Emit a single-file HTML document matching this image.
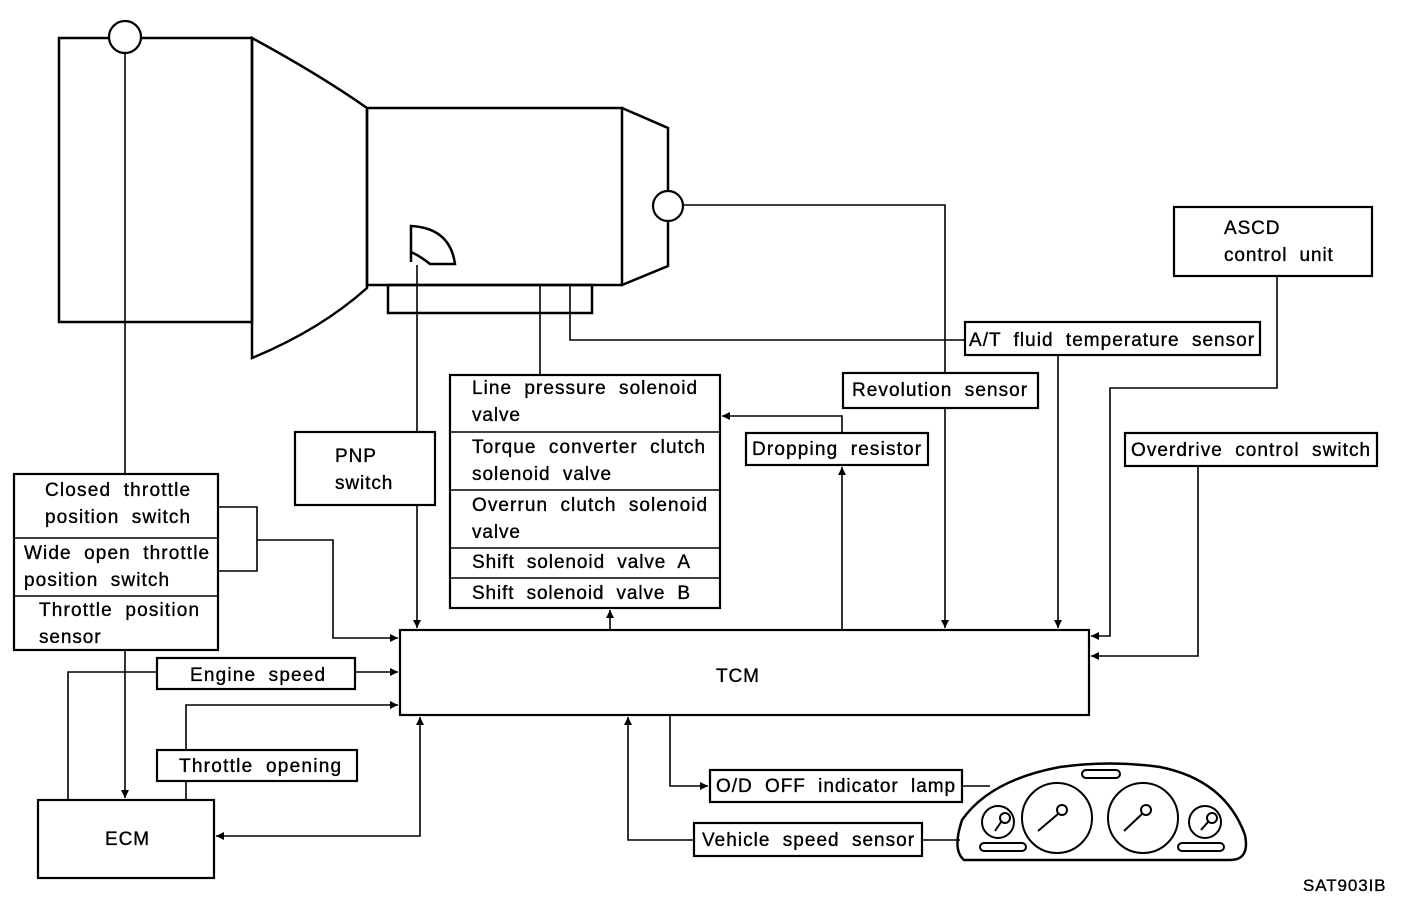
<!DOCTYPE html>
<html><head><meta charset="utf-8"><style>
html,body{margin:0;padding:0;background:#fff;}
svg{display:block;}
text{font-family:"Liberation Sans",sans-serif;font-size:19px;fill:#000;stroke:#000;stroke-width:0.35px;word-spacing:6px;letter-spacing:0.9px;}
</style></head><body>
<svg width="1408" height="898" viewBox="0 0 1408 898" xmlns="http://www.w3.org/2000/svg">
<defs><marker id="a" viewBox="0 0 10 10" refX="10" refY="5" markerWidth="9" markerHeight="8" orient="auto-start-reverse" markerUnits="userSpaceOnUse"><path d="M0,0L10,5L0,10z" fill="#000"/></marker></defs>
<g fill="none" stroke="#000" stroke-width="2.5">
<rect x="59" y="38" width="193" height="284"/>
<path d="M252,38 Q320,75 367,108 L367,288 Q320,330 252,358 Z"/>
<rect x="367" y="108" width="255" height="177"/>
<path d="M622,108 L668,128 L668,266 L622,285"/>
<rect x="388" y="285" width="204" height="28"/>
<path d="M411,262 L411,226 Q450,228 455,264 L430,264 Q420,256 411,252"/>
</g>
<circle cx="125" cy="37" r="16" fill="#fff" stroke="#000" stroke-width="2.2"/>
<circle cx="668" cy="206" r="15" fill="#fff" stroke="#000" stroke-width="2.2"/>
<g fill="none" stroke="#000" stroke-width="1.6">
<line x1="125" y1="53" x2="125" y2="474"/>
<line x1="125" y1="650" x2="125" y2="798" marker-end="url(#a)"/>
<line x1="417" y1="265" x2="417" y2="432"/>
<line x1="417" y1="505" x2="417" y2="628" marker-end="url(#a)"/>
<line x1="540" y1="285" x2="540" y2="375"/>
<polyline points="570,285 570,340 965,340"/>
<polyline points="683,205 945,205 945,373"/>
<line x1="945" y1="408" x2="945" y2="628" marker-end="url(#a)"/>
<line x1="1058" y1="355" x2="1058" y2="628" marker-end="url(#a)"/>
<polyline points="1277,276 1277,388 1110,388 1110,636 1091,636" marker-end="url(#a)"/>
<polyline points="1198,466 1198,656 1091,656" marker-end="url(#a)"/>
<line x1="842" y1="630" x2="842" y2="467" marker-end="url(#a)"/>
<polyline points="842,433 842,416 722,416" marker-end="url(#a)"/>
<line x1="610" y1="630" x2="610" y2="610" marker-end="url(#a)"/>
<polyline points="218,507 257,507 257,571 218,571"/>
<polyline points="257,540 333,540 333,638 398,638" marker-end="url(#a)"/>
<polyline points="68,800 68,672 157,672"/>
<line x1="355" y1="672" x2="398" y2="672" marker-end="url(#a)"/>
<polyline points="186,800 186,781"/>
<polyline points="186,750 186,705 398,705" marker-end="url(#a)"/>
<polyline points="420,717 420,836 216,836" marker-start="url(#a)" marker-end="url(#a)"/>
<polyline points="670,715 670,786 708,786" marker-end="url(#a)"/>
<polyline points="694,840 628,840 628,717" marker-end="url(#a)"/>
<line x1="962" y1="786" x2="990" y2="786"/>
<line x1="922" y1="840" x2="960" y2="840"/>
</g>
<g fill="#fff" stroke="#000" stroke-width="2.2">
<rect x="1174" y="207" width="198" height="69"/>
<rect x="965" y="322" width="295" height="33"/>
<rect x="843" y="373" width="195" height="35"/>
<rect x="746" y="433" width="182" height="32"/>
<rect x="1125" y="433" width="252" height="33"/>
<rect x="450" y="375" width="270" height="233"/>
<rect x="295" y="432" width="140" height="73"/>
<rect x="14" y="474" width="204" height="176"/>
<rect x="157" y="658" width="198" height="31"/>
<rect x="157" y="750" width="200" height="31"/>
<rect x="400" y="630" width="689" height="85"/>
<rect x="38" y="800" width="176" height="78"/>
<rect x="710" y="770" width="252" height="32"/>
<rect x="694" y="823" width="228" height="33"/>
</g>
<g stroke="#000" stroke-width="1.6">
<line x1="450" y1="432" x2="720" y2="432"/><line x1="450" y1="490" x2="720" y2="490"/>
<line x1="450" y1="548" x2="720" y2="548"/><line x1="450" y1="578" x2="720" y2="578"/>
<line x1="14" y1="538" x2="218" y2="538"/><line x1="14" y1="596" x2="218" y2="596"/>
</g>
<g fill="none" stroke="#000" stroke-width="2">
<path d="M964,860 Q952,850 962,820 Q990,780 1060,767 Q1110,760 1160,767 Q1225,780 1245,835 Q1250,860 1230,860 Z" stroke-width="2.5"/>
<rect x="1082" y="770" width="38" height="8" rx="4"/>
<rect x="980" y="843" width="46" height="8" rx="4"/>
<rect x="1178" y="843" width="46" height="8" rx="4"/>
<circle cx="998" cy="822" r="16"/><circle cx="1057" cy="818" r="35"/>
<circle cx="1143" cy="818" r="35"/><circle cx="1205" cy="822" r="16"/>
<circle cx="1005" cy="818" r="5"/><line x1="1001" y1="822" x2="995" y2="831"/>
<circle cx="1062" cy="810" r="5"/><line x1="1058" y1="814" x2="1038" y2="831"/>
<circle cx="1146" cy="810" r="5"/><line x1="1142" y1="814" x2="1124" y2="831"/>
<circle cx="1212" cy="818" r="5"/><line x1="1208" y1="822" x2="1201" y2="830"/>
</g>
<text x="1224" y="234">ASCD</text>
<text x="1224" y="261">control unit</text>
<text x="969" y="346" textLength="286" lengthAdjust="spacing">A/T fluid temperature sensor</text>
<text x="852" y="396" textLength="176" lengthAdjust="spacing">Revolution sensor</text>
<text x="752" y="455" textLength="170" lengthAdjust="spacing">Dropping resistor</text>
<text x="1131" y="456" textLength="240" lengthAdjust="spacing">Overdrive control switch</text>
<text x="472" y="394" textLength="226" lengthAdjust="spacing">Line pressure solenoid</text>
<text x="472" y="421">valve</text>
<text x="472" y="453" textLength="234" lengthAdjust="spacing">Torque converter clutch</text>
<text x="472" y="480" textLength="140" lengthAdjust="spacing">solenoid valve</text>
<text x="472" y="511" textLength="236" lengthAdjust="spacing">Overrun clutch solenoid</text>
<text x="472" y="538">valve</text>
<text x="472" y="568" textLength="219" lengthAdjust="spacing">Shift solenoid valve A</text>
<text x="472" y="599" textLength="219" lengthAdjust="spacing">Shift solenoid valve B</text>
<text x="335" y="462">PNP</text>
<text x="335" y="489">switch</text>
<text x="45" y="496" textLength="146" lengthAdjust="spacing">Closed throttle</text>
<text x="45" y="523" textLength="146" lengthAdjust="spacing">position switch</text>
<text x="24" y="559" textLength="186" lengthAdjust="spacing">Wide open throttle</text>
<text x="24" y="586" textLength="146" lengthAdjust="spacing">position switch</text>
<text x="39" y="616" textLength="161" lengthAdjust="spacing">Throttle position</text>
<text x="39" y="643">sensor</text>
<text x="190" y="681" textLength="136" lengthAdjust="spacing">Engine speed</text>
<text x="179" y="772" textLength="163" lengthAdjust="spacing">Throttle opening</text>
<text x="716" y="682">TCM</text>
<text x="105" y="845">ECM</text>
<text x="716" y="792" textLength="240" lengthAdjust="spacing">O/D OFF indicator lamp</text>
<text x="702" y="846" textLength="213" lengthAdjust="spacing">Vehicle speed sensor</text>
<text x="1303" y="891" style="font-size:17px;word-spacing:0">SAT903IB</text>
</svg>
</body></html>
